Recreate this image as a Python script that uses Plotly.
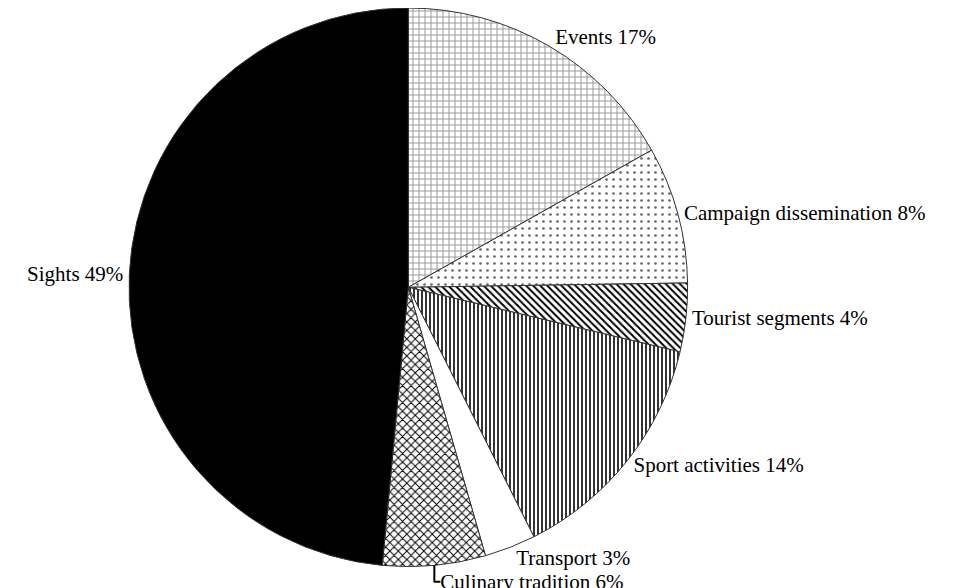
import plotly.graph_objects as go

labels = ["Events", "Campaign dissemination", "Tourist segments", "Sport activities",
          "Transport", "Culinary tradition", "Sights"]
values = [17, 8, 4, 14, 3, 6, 49]
texts = ["Events 17%", "Campaign dissemination 8%", "Tourist segments 4%", "Sport activities 14%",
         "Transport 3%", "Culinary tradition 6%", "Sights 49%"]

shapes = ["+", ".", "\\", "|", "", "x", ""]
fgcolors = ["#999999", "#666666", "black", "black", "black", "black", "black"]
bgcolors = ["white", "white", "white", "white", "white", "white", "black"]
sizes = [6, 7, 5, 4, 6, 6, 6]
solidities = [0.3, 0.12, 0.4, 0.4, 0.3, 0.3, 0.3]

fig = go.Figure(go.Pie(
    labels=labels, values=values, text=texts,
    textinfo="text", textposition="outside", sort=False, direction="clockwise",
    rotation=0,
    marker=dict(colors=bgcolors, line=dict(color="#333333", width=1),
                pattern=dict(shape=shapes, fgcolor=fgcolors, bgcolor=bgcolors,
                             size=sizes, solidity=solidities)),
    outsidetextfont=dict(family="Liberation Serif", size=21, color="black"),
    automargin=False, showlegend=False,
    domain=dict(x=[0.115, 0.707], y=[0.05, 1]),
))
fig.update_layout(width=974, height=588, margin=dict(l=0, r=0, t=0, b=0),
                  paper_bgcolor="white", plot_bgcolor="white")
fig.write_html("out.html")
